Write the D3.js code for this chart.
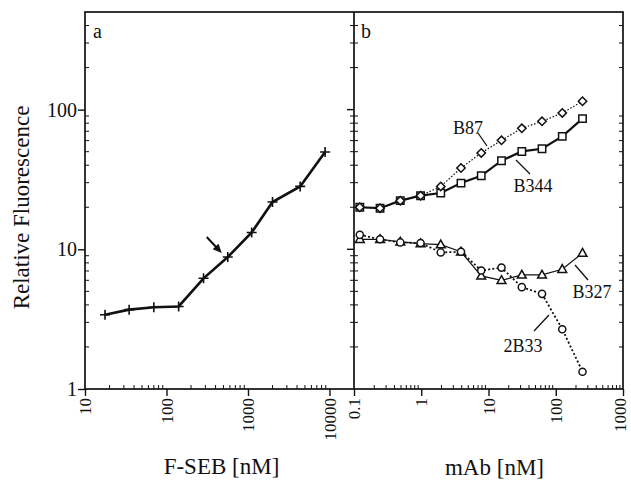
<!DOCTYPE html>
<html>
<head>
<meta charset="utf-8">
<script src="https://cdn.jsdelivr.net/npm/d3@7"></script>
<style>
  html, body { margin: 0; padding: 0; background: #fff; }
  svg text { font-family: "Liberation Serif", "Times New Roman", Times, "DejaVu Serif", serif; fill: #111; }
</style>
</head>
<body>
<svg id="chart" width="631" height="482"></svg>
<script>
// Panel a: F-SEB titration
const fsebConc  = [17.6, 34.8, 70, 141, 285, 565, 1110, 2000, 4370, 8840];
const fsebFluor = [3.4, 3.7, 3.85, 3.9, 6.2, 8.8, 13.2, 21.8, 28.2, 49.8];

// Panel b: antibody titrations
const mAbConc = [0.122, 0.244, 0.488, 0.977, 1.95, 3.9, 7.8, 15.6, 31.3, 62.5, 125, 250];
const b87   = [20.0, 19.7, 22.3, 24.2, 28.2, 38.2, 49, 60.3, 73.5, 82.5, 94.7, 114.8];
const b344  = [20.0, 19.7, 22.3, 24.2, 25.3, 29.8, 33.6, 43.1, 50.2, 52.5, 64.4, 86.2];
const b327  = [11.8, 11.8, 11.3, 11.0, 10.8, 9.6, 6.45, 6.0, 6.56, 6.56, 7.2, 9.4];
const b2b33 = [12.7, 11.8, 11.2, 11.1, 9.5, 9.6, 7.05, 7.4, 5.36, 4.8, 2.68, 1.33];

const yTicks  = [1, 10, 100];
const xTicksA = [10, 100, 1000, 10000];
const xTicksB = [0.1, 1, 10, 100, 1000];

const serif = "Liberation Serif, Times New Roman, serif";
const svg = d3.select("#chart");
const plotTop = 12, plotBottom = 389;
const leftA = 85, mid = 354, rightB = 623;

const y  = d3.scaleLog().domain([1, 500]).range([plotBottom, plotTop]);
const xa = d3.scaleLog().domain([10, 20000]).range([leftA, mid]);
const xb = d3.scaleLog().domain([0.1, 1000]).range([mid, rightB]);

function minorValues(domain) {
  const out = [];
  const lo = Math.floor(Math.log10(domain[0])), hi = Math.ceil(Math.log10(domain[1]));
  for (let e = lo; e < hi; e++) {
    for (let m = 2; m <= 9; m++) {
      const v = m * Math.pow(10, e);
      if (v > domain[0] && v < domain[1]) out.push(v);
    }
  }
  return out;
}

const ink = "#111";

// frame of both panels
svg.append("rect")
  .attr("x", leftA).attr("y", plotTop)
  .attr("width", rightB - leftA).attr("height", plotBottom - plotTop)
  .attr("fill", "none").attr("stroke", ink).attr("stroke-width", 1.7);
svg.append("line")
  .attr("x1", mid).attr("x2", mid).attr("y1", plotTop).attr("y2", plotBottom)
  .attr("stroke", ink).attr("stroke-width", 1.7);

// minor ticks along vertical edges (inward)
const yMinor = minorValues(y.domain());
const vEdges = [[leftA, 1], [mid, -1], [mid, 1], [rightB, -1]];
vEdges.forEach(([x0, dir]) => {
  svg.append("g").selectAll("line").data(yMinor).join("line")
    .attr("x1", x0).attr("x2", x0 + dir * 4)
    .attr("y1", d => y(d)).attr("y2", d => y(d))
    .attr("stroke", ink).attr("stroke-width", 1);
});
// minor ticks along bottom edge (inward)
[xa, xb].forEach(sx => {
  svg.append("g").selectAll("line").data(minorValues(sx.domain())).join("line")
    .attr("x1", d => sx(d)).attr("x2", d => sx(d))
    .attr("y1", plotBottom).attr("y2", plotBottom - 4)
    .attr("stroke", ink).attr("stroke-width", 1);
});

// y axis (left of panel a)
const yAxis = svg.append("g").attr("transform", `translate(${leftA},0)`)
  .call(d3.axisLeft(y).tickValues(yTicks).tickFormat(d3.format("d")).tickSize(7).tickPadding(1));
yAxis.attr("font-family", serif);
yAxis.select(".domain").remove();
yAxis.selectAll("line").attr("stroke", ink).attr("stroke-width", 1.4);
yAxis.selectAll("text").attr("font-size", 20).attr("fill", ink);

// major ticks of panel b's left axis, pointing outward
svg.append("g").selectAll("line").data([10, 100]).join("line")
  .attr("x1", mid).attr("x2", mid - 7)
  .attr("y1", d => y(d)).attr("y2", d => y(d))
  .attr("stroke", ink).attr("stroke-width", 1.4);

function xAxis(scale, values) {
  const g = svg.append("g").attr("transform", `translate(0,${plotBottom})`)
    .call(d3.axisBottom(scale).tickValues(values).tickFormat(d => String(d)).tickSize(7));
  g.attr("font-family", serif);
  g.select(".domain").remove();
  g.selectAll("line").attr("stroke", ink).attr("stroke-width", 1.4);
  g.selectAll("text")
    .attr("font-size", 17).attr("fill", ink)
    .attr("transform", "rotate(-90)")
    .attr("text-anchor", "end")
    .attr("x", -9).attr("y", 0).attr("dy", "0.33em");
  return g;
}
xAxis(xa, xTicksA);
const axisB = xAxis(xb, xTicksB);
// keep the last label of panel b inside the right edge
axisB.selectAll(".tick").filter(d => d === 1000).select("text").attr("dy", "0.12em");

// axis titles
svg.append("text")
  .attr("transform", `translate(29,${(plotTop + plotBottom) / 2 + 7}) rotate(-90)`)
  .attr("text-anchor", "middle").attr("font-size", 23)
  .text("Relative Fluorescence");
svg.append("text")
  .attr("x", (leftA + mid) / 2 + 2).attr("y", 474)
  .attr("text-anchor", "middle").attr("font-size", 23)
  .text("F-SEB [nM]");
svg.append("text")
  .attr("x", (mid + rightB) / 2 + 6).attr("y", 475)
  .attr("text-anchor", "middle").attr("font-size", 23)
  .text("mAb [nM]");

// panel letters
svg.append("text").attr("x", 93).attr("y", 38).attr("font-size", 20).text("a");
svg.append("text").attr("x", 361).attr("y", 38).attr("font-size", 20).text("b");

// ---- panel a curve
const lineA = d3.line().x(d => xa(d[0])).y(d => y(d[1]));
const ptsA = fsebConc.map((c, i) => [c, fsebFluor[i]]);
svg.append("path").datum(ptsA).attr("d", lineA)
  .attr("fill", "none").attr("stroke", ink).attr("stroke-width", 2.6);
svg.append("g").selectAll("path").data(ptsA).join("path")
  .attr("transform", d => `translate(${xa(d[0])},${y(d[1])})`)
  .attr("d", "M-5,0H5M0,-5V5")
  .attr("stroke", ink).attr("stroke-width", 1.6);

// arrow pointing at the 565 nM point
const arrowTip = [xa(fsebConc[5]) - 6, y(fsebFluor[5]) - 4];
const ang = Math.atan2(16, 15);
const tail = [arrowTip[0] - 22 * Math.cos(ang), arrowTip[1] - 22 * Math.sin(ang)];
svg.append("line")
  .attr("x1", tail[0]).attr("y1", tail[1])
  .attr("x2", arrowTip[0] - 6 * Math.cos(ang)).attr("y2", arrowTip[1] - 6 * Math.sin(ang))
  .attr("stroke", ink).attr("stroke-width", 2);
svg.append("path")
  .attr("transform", `translate(${arrowTip[0]},${arrowTip[1]}) rotate(${ang * 180 / Math.PI})`)
  .attr("d", "M0,0L-9,-4L-9,4Z").attr("fill", ink);

// ---- panel b curves
const lineB = d3.line().x(d => xb(d[0])).y(d => y(d[1]));
const series = [
  { name: "B327", vals: b327,  width: 1.2, dash: null,   marker: "triangle" },
  { name: "2B33", vals: b2b33, width: 1.8, dash: "2,2.2", marker: "circle" },
  { name: "B344", vals: b344,  width: 2.2, dash: null,   marker: "square" },
  { name: "B87",  vals: b87,   width: 1.2, dash: "1.5,1.8", marker: "diamond" }
];
const shapes = {
  triangle: "M0,-4.6L4.4,3.2L-4.4,3.2Z",
  circle: d3.symbol(d3.symbolCircle, 40)(),
  square: "M-3.7,-3.7H3.7V3.7H-3.7Z",
  diamond: "M0,-4.2L4.2,0L0,4.2L-4.2,0Z"
};
series.forEach(s => {
  const pts = mAbConc.map((c, i) => [c, s.vals[i]]);
  svg.append("path").datum(pts).attr("d", lineB)
    .attr("fill", "none").attr("stroke", ink)
    .attr("stroke-width", s.width)
    .attr("stroke-dasharray", s.dash);
  svg.append("g").selectAll("path").data(pts).join("path")
    .attr("transform", d => `translate(${xb(d[0])},${y(d[1])})`)
    .attr("d", shapes[s.marker])
    .attr("fill", "#fff").attr("stroke", ink).attr("stroke-width", 1.5);
});

// series labels with leader lines
const labels = [
  { text: "B87",  x: 468, y: 134, l: [478, 133, 487, 146] },
  { text: "B344", x: 533, y: 192, l: [516, 160, 530, 174] },
  { text: "B327", x: 592, y: 298, l: [575, 265, 588, 280] },
  { text: "2B33", x: 523, y: 352, l: [534, 331, 549, 315] }
];
labels.forEach(d => {
  svg.append("text").attr("x", d.x).attr("y", d.y)
    .attr("text-anchor", "middle").attr("font-size", 18).text(d.text);
  svg.append("line")
    .attr("x1", d.l[0]).attr("y1", d.l[1]).attr("x2", d.l[2]).attr("y2", d.l[3])
    .attr("stroke", ink).attr("stroke-width", 1.3);
});
</script>
</body>
</html>
